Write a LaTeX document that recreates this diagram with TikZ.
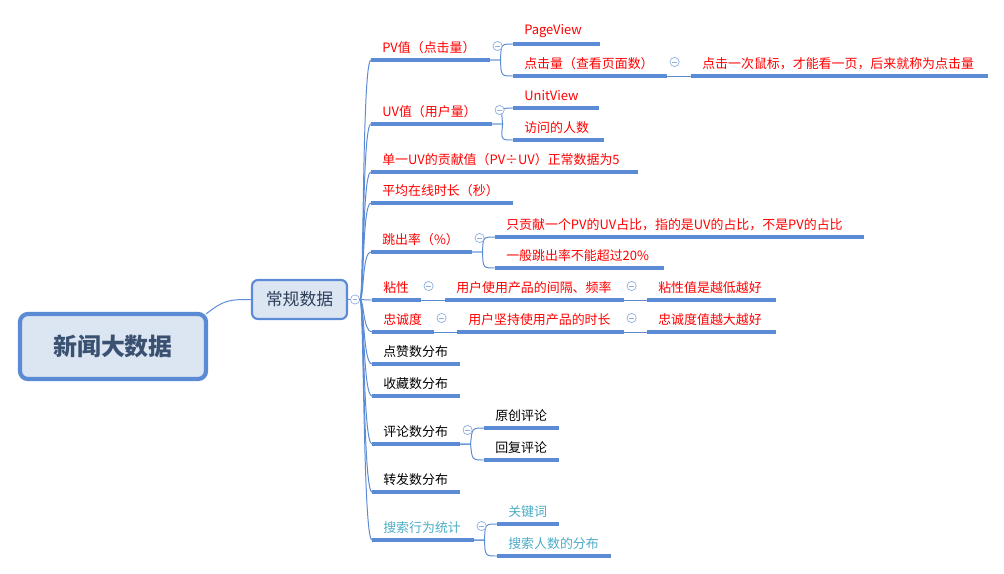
\documentclass[tikz,border=0pt]{standalone}
\usepackage{fontspec}
\newfontfamily\cjk{Noto Sans CJK SC}
\definecolor{mapblue}{HTML}{5A8BD4}
\definecolor{boxfill}{HTML}{DCE6F2}
\definecolor{roottext}{HTML}{3B5172}
\definecolor{grouptext}{HTML}{2E3F5C}
\definecolor{togglecol}{HTML}{8DB0E0}
\definecolor{searchcol}{HTML}{4BACC6}
\tikzset{
  topic/.style={anchor=south west, inner xsep=0.275cm, inner ysep=0pt, minimum height=0.62cm,
    text width=#1cm, align=left, font=\cjk\fontsize{9.2}{11}\selectfont},
  redtopic/.style={topic=#1, text=red},
  blacktopic/.style={topic=#1, text=black},
  bluetopic/.style={topic=#1, text=searchcol},
  uline/.style={draw=mapblue, line width=2.4pt},
  link/.style={draw=mapblue, line width=0.7pt},
  toggle/.style={circle, draw=togglecol, fill=white, line width=0.5pt, minimum size=0.23cm, inner sep=0pt,
    path picture={\draw[togglecol, line width=0.5pt] ([xshift=-0.06cm]path picture bounding box.center)
      -- ([xshift=0.06cm]path picture bounding box.center);}}
}
\begin{document}
\begin{tikzpicture}[x=0.025cm, y=-0.025cm]
  \useasboundingbox (0,0) rectangle (1004,573);
  \node[draw=mapblue, line width=3pt, rounded corners=0.2cm, fill=boxfill, minimum width=4.65cm, minimum height=1.625cm,
    font=\cjk\bfseries\fontsize{17}{20}\selectfont, text=roottext] (root) at (113,346.5) {新闻大数据};
  \node[draw=mapblue, line width=1.5pt, rounded corners=0.15cm, fill=boxfill, minimum width=2.375cm, minimum height=0.975cm,
    font=\cjk\fontsize{12}{14}\selectfont, text=grouptext] (grp) at (299.5,299.5) {常规数据};
  \node[toggle] (grp-t) at ([xshift=0.175cm]grp.east) {};

  \node[redtopic=2.4] (pv) at (371,60) {PV值（点击量）};
  \node[redtopic=1.6] (pv1) at (513,44) {PageView};
  \node[redtopic=3.275] (pv2) at (513,76) {点击量（查看页面数）};
  \node[redtopic=6.85] (pv3) at (691,76) {点击一次鼠标，才能看一页，后来就称为点击量};
  \node[redtopic=2.45] (uv) at (371,124) {UV值（用户量）};
  \node[redtopic=1.575] (uv1) at (513,108) {UnitView};
  \node[redtopic=1.7] (uv2) at (513,140) {访问的人数};
  \node[redtopic=6.1] (avg) at (371,172) {单一UV的贡献值（PV÷UV）正常数据为5};
  \node[redtopic=2.975] (tm) at (371,203) {平均在线时长（秒）};
  \node[redtopic=1.95] (br) at (371,252) {跳出率（\%）};
  \node[redtopic=8.65] (br1) at (495,237) {只贡献一个PV的UV占比，指的是UV的占比，不是PV的占比};
  \node[redtopic=3.65] (br2) at (495,268) {一般跳出率不能超过20\%};
  \node[redtopic=0.65] (st) at (372,300) {粘性};
  \node[redtopic=3.9] (st1) at (445,300) {用户使用产品的间隔、频率};
  \node[redtopic=2.65] (st2) at (647,300) {粘性值是越低越好};
  \node[redtopic=0.975] (ly) at (372,332) {忠诚度};
  \node[redtopic=3.6] (ly1) at (457,332) {用户坚持使用产品的时长};
  \node[redtopic=2.65] (ly2) at (647,332) {忠诚度值越大越好};
  \node[blacktopic=1.625] (lk) at (372,364) {点赞数分布};
  \node[blacktopic=1.625] (fav) at (372,396) {收藏数分布};
  \node[blacktopic=1.625] (cm) at (372,444) {评论数分布};
  \node[blacktopic=1.3] (cm1) at (484,428) {原创评论};
  \node[blacktopic=1.3] (cm2) at (484,460) {回复评论};
  \node[blacktopic=1.625] (fw) at (372,492) {转发数分布};
  \node[bluetopic=1.975] (se) at (372,540) {搜索行为统计};
  \node[bluetopic=0.975] (se1) at (497,524) {关键词};
  \node[bluetopic=2.275] (se2) at (497,556) {搜索人数的分布};

  \foreach \n in {pv,pv1,pv2,pv3,uv,uv1,uv2,avg,tm,br,br1,br2,st,st1,st2,ly,ly1,ly2,lk,fav,cm,cm1,cm2,fw,se,se1,se2}
    \draw[uline] (\n.south west) -- (\n.south east);

  \draw[link] ([shift={(-2,2)}]root.north east) .. controls +(18,-14) and +(-22,0) .. (grp.west);
  \draw[link] (grp.east) -- (grp-t.west);
  \foreach \n in {pv,uv,avg,tm,br,st,ly,lk,fav,cm,fw,se}
    \draw[link] (grp-t.east) .. controls +(4,0) and +(-9,0) .. (\n.south west);
  \foreach \p/\c in {pv/pv1,pv/pv2,uv/uv1,uv/uv2,br/br1,br/br2,cm/cm1,cm/cm2,se/se1,se/se2}
    \draw[link] (\p.south east) -- ++(11,0) .. controls ([xshift=-0.3cm]\c.south west) .. (\c.south west);
  \foreach \a/\b in {pv2/pv3,st/st1,st1/st2,ly/ly1,ly1/ly2}
    \draw[link] (\a.south east) -- (\b.south west);

  \foreach \n in {pv,pv2,uv,br,st,st1,ly,ly1,cm,se}
    \node[toggle] (\n-t) at ([shift={(8,-14)}]\n.south east) {};
\end{tikzpicture}
\end{document}
